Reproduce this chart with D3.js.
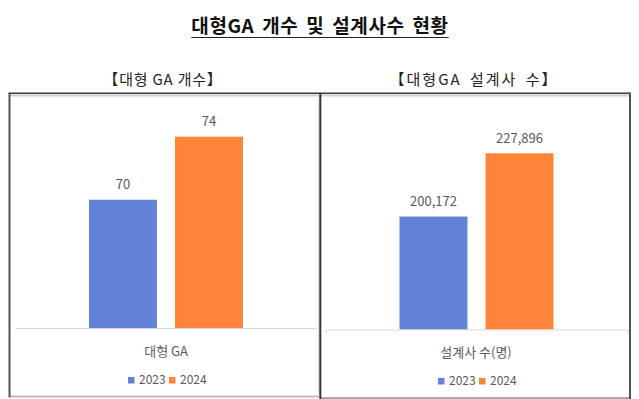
<!DOCTYPE html>
<html>
<head>
<meta charset="utf-8">
<script src="https://cdn.jsdelivr.net/npm/d3@7"></script>
<style>
  body { margin: 0; background: #fff; }
  text { font-family: "Noto Sans CJK KR", "Noto Sans", sans-serif; }
</style>
</head>
<body>
<div class="chart"></div>
<script>
// data
const years = ['2023', '2024']
const gaCount = [70, 74]
const plannerCount = [200172, 227896]
const colors = ['#6182d6', '#fe8439']

const title = '대형GA 개수 및 설계사수 현황'
const leftTitle = '【대형 GA 개수】'
const rightTitle = '【대형GA 설계사 수】'
const leftCategory = '대형 GA'
const rightCategory = '설계사 수(명)'

const W = 639, H = 399
const svg = d3.select('.chart').append('svg')
  .attr('width', W)
  .attr('height', H)

const color = d3.scaleOrdinal().domain(years).range(colors)

// main title with underline
const t = svg.append('text')
  .attr('x', 320)
  .attr('y', 33)
  .attr('text-anchor', 'middle')
  .attr('font-size', 19)
  .attr('font-weight', 'bold')
  .attr('letter-spacing', 0.6)
  .attr('word-spacing', 3)
  .attr('fill', '#111')
  .text(title)
const tb = t.node().getBBox()
svg.append('line')
  .attr('x1', tb.x).attr('x2', tb.x + tb.width)
  .attr('y1', 37.5).attr('y2', 37.5)
  .attr('stroke', '#222').attr('stroke-width', 1.2)

// sub titles
svg.append('text').attr('x', 163).attr('y', 85).attr('text-anchor', 'middle')
  .attr('font-size', 15).attr('letter-spacing', 0.8).attr('fill', '#222').text(leftTitle)
svg.append('text').attr('x', 474).attr('y', 85).attr('text-anchor', 'middle')
  .attr('font-size', 15).attr('letter-spacing', 2).attr('word-spacing', 3)
  .attr('fill', '#222').text(rightTitle)

// frame
const frame = svg.append('g')
frame.append('line').attr('x1', 10).attr('x2', 319).attr('y1', 95.5).attr('y2', 95.5)
  .attr('stroke', '#cfcfcf').attr('stroke-width', 2)
frame.append('line').attr('x1', 321).attr('x2', 629).attr('y1', 95.5).attr('y2', 95.5)
  .attr('stroke', '#cfcfcf').attr('stroke-width', 2)
frame.append('line').attr('x1', 10).attr('x2', 319).attr('y1', 396.5).attr('y2', 396.5)
  .attr('stroke', '#bdbdbd').attr('stroke-width', 2)
frame.append('line').attr('x1', 321).attr('x2', 630).attr('y1', 398).attr('y2', 398)
  .attr('stroke', '#888').attr('stroke-width', 1.5)
frame.append('line').attr('x1', 318.5).attr('x2', 318.5).attr('y1', 96).attr('y2', 396)
  .attr('stroke', '#e4e4e4').attr('stroke-width', 1)
frame.append('line').attr('x1', 8.5).attr('x2', 631).attr('y1', 93.3).attr('y2', 93.3)
  .attr('stroke', '#3a3a3a').attr('stroke-width', 1.5)
frame.append('line').attr('x1', 9.5).attr('x2', 9.5).attr('y1', 93).attr('y2', 397.5)
  .attr('stroke', '#555').attr('stroke-width', 2)
frame.append('line').attr('x1', 320.3).attr('x2', 320.3).attr('y1', 93).attr('y2', 399)
  .attr('stroke', '#333').attr('stroke-width', 2)
frame.append('line').attr('x1', 630).attr('x2', 630).attr('y1', 93).attr('y2', 399)
  .attr('stroke', '#555').attr('stroke-width', 2)

function drawChart(cfg) {
  const g = svg.append('g')
  const x = d3.scaleBand()
    .domain(years)
    .range(cfg.xRange)
    .paddingInner(0.21)
  const y = d3.scaleLinear()
    .domain(cfg.yDomain)
    .range([cfg.base, cfg.top])

  g.selectAll('.bar')
    .data(cfg.values)
    .enter()
    .append('rect')
    .attr('x', (d, i) => x(years[i]))
    .attr('y', d => y(d))
    .attr('width', x.bandwidth())
    .attr('height', d => cfg.base - y(d))
    .attr('fill', (d, i) => color(years[i]))

  g.selectAll('.lbl')
    .data(cfg.values)
    .enter()
    .append('text')
    .attr('x', (d, i) => x(years[i]) + x.bandwidth() / 2)
    .attr('y', d => y(d) - 10.5)
    .attr('text-anchor', 'middle')
    .attr('font-size', 13)
    .attr('fill', '#595959')
    .text(d => d3.format(',')(d))

  // axis base line
  g.append('line')
    .attr('x1', cfg.axisX[0]).attr('x2', cfg.axisX[1])
    .attr('y1', cfg.axisY).attr('y2', cfg.axisY)
    .attr('stroke', '#d9d9d9').attr('stroke-width', 1)
  if (cfg.ticks) {
    cfg.axisX.forEach(v => {
      g.append('line').attr('x1', v).attr('x2', v)
        .attr('y1', cfg.axisY).attr('y2', cfg.axisY + 4)
        .attr('stroke', '#d9d9d9')
    })
  }

  // category label
  g.append('text')
    .attr('x', cfg.center)
    .attr('y', cfg.catY)
    .attr('text-anchor', 'middle')
    .attr('font-size', 13)
    .attr('fill', '#595959')
    .text(cfg.category)

  // legend
  const lg = g.append('g')
    .attr('transform', `translate(${cfg.center - 38},${cfg.legY})`)
  const item = lg.selectAll('.legend')
    .data(years)
    .enter()
    .append('g')
    .attr('transform', (d, i) => `translate(${i * 41},0)`)
  item.append('rect')
    .attr('x', 0).attr('y', -7)
    .attr('width', 6.5).attr('height', 6.5)
    .attr('fill', d => color(d))
  item.append('text')
    .attr('x', 11).attr('y', 0)
    .attr('font-size', 12)
    .attr('fill', '#595959')
    .text(d => d)
}

drawChart({
  values: gaCount,
  xRange: [89, 243],
  yDomain: [61.8, 76.2],
  base: 329, top: 102,
  axisX: [15, 317], axisY: 328.5, ticks: false,
  center: 166, catY: 356, legY: 384,
  category: leftCategory
})

drawChart({
  values: plannerCount,
  xRange: [399.5, 553.5],
  yDomain: [150700, 250000],
  base: 329.5, top: 102.8,
  axisX: [326, 628], axisY: 330, ticks: true,
  center: 476, catY: 357, legY: 385,
  category: rightCategory
})
</script>
</body>
</html>
